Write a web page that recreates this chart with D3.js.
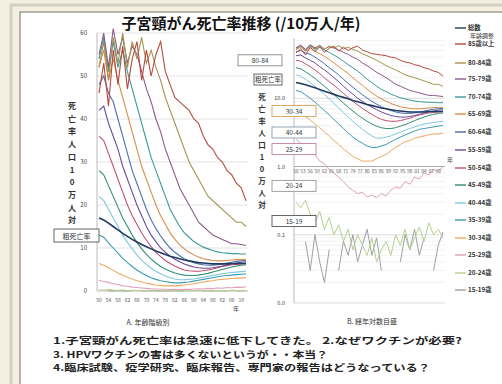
<!DOCTYPE html>
<html>
<head>
<meta charset="utf-8">
<script src="https://cdn.jsdelivr.net/npm/d3@7"></script>
<style>
  body { margin: 0; background: #f4efe3; }
  svg { display: block; font-family: "Noto Sans CJK JP", "Noto Sans", sans-serif; }
</style>
</head>
<body>
<svg id="chart" width="502" height="384"></svg>
<script>
// years (every 2 years)
const years = [1950,1952,1954,1956,1958,1960,1962,1964,1966,1968,1970,1972,1974,1976,1978,1980,
  1982,1984,1986,1988,1990,1992,1994,1996,1998,2000,2002,2004,2006,2008,2010,2012];

// death rate per 100k, by age group
const rateTotal = [17,16.5,15.8,15,14.2,13.4,12.7,12,11.4,10.8,10.3,9.8,9.3,8.9,8.5,8.1,7.8,7.5,7.2,7,6.8,6.6,6.5,6.4,6.3,6.3,6.3,6.3,6.4,6.4,6.4,6.4];
const rate85 = [46,53,43,56,48,57,47,54,58,49,56,50,55,58,51,48,45,44,43,42,40,39,36,34,33,31,30,28,27,25,24,21];
const rate80 = [52,58,49,59,53,60,52,58,54,59,53,56,52,49,45,42,39,36,33,30,28,26,24,22,21,20,19,18,17,16,16,15];
const rate75 = [55,60,52,61,55,59,53,57,55,51,47,44,40,37,33,30,27,24,22,20,18,16,15,14,13,12.5,12,11.5,11,11,10.8,10.6];
const rate70 = [54,59,51,58,52,56,51,47,43,39,35,31,28,25,22,19,17,15,13.5,12.5,11.5,10.8,10.2,9.8,9.4,9.1,8.9,8.8,8.7,8.7,8.6,8.6];
const rate65 = [52,56,49,54,49,45,41,37,33,29,26,23,20,17.5,15.5,13.5,12,10.8,9.8,9,8.4,7.9,7.5,7.3,7.1,7,7,7.1,7.2,7.3,7.3,7.4];
const rate60 = [48,50,46,44,40,36,32,28,25,22,19,16.5,14.5,12.8,11.3,10,9,8.2,7.5,7,6.6,6.3,6.1,6,6,6.1,6.3,6.5,6.7,6.9,7,7.1];
const rate55 = [42,43,39,36,33,29,26,23,20,17.5,15,13,11.5,10,9,8.1,7.4,6.8,6.3,5.9,5.6,5.4,5.3,5.3,5.4,5.6,5.8,6.1,6.3,6.5,6.7,6.8];
const rate50 = [36,35,32,29,26,23,20,17.5,15.5,13.5,11.8,10.3,9,8,7.1,6.4,5.8,5.3,4.9,4.7,4.6,4.6,4.7,4.9,5.1,5.4,5.7,5.9,6.1,6.2,6.3,6.4];
const rate45 = [28,27,24.5,22,19.5,17,15,13,11.3,9.8,8.5,7.4,6.5,5.7,5.1,4.6,4.2,3.9,3.7,3.6,3.6,3.7,3.9,4.1,4.4,4.7,5,5.3,5.6,5.8,6,6.1];
const rate40 = [22,21,19,17,15,13,11.3,9.8,8.4,7.2,6.2,5.3,4.6,4,3.5,3.1,2.8,2.6,2.6,2.7,2.8,3,3.2,3.4,3.6,3.8,4,4.2,4.3,4.4,4.5,4.6];
const rate35 = [13,12.5,11.2,10,8.8,7.6,6.6,5.7,4.9,4.2,3.6,3.1,2.7,2.4,2.2,2,1.9,1.9,2,2.1,2.3,2.5,2.7,2.9,3.1,3.3,3.5,3.6,3.7,3.8,3.9,4];
const rate30 = [6.4,6,5.4,4.8,4.2,3.7,3.2,2.8,2.4,2.1,1.8,1.6,1.4,1.3,1.2,1.2,1.2,1.3,1.4,1.5,1.7,1.9,2.1,2.3,2.4,2.6,2.7,2.8,2.9,3,3,3.1];
const rate25 = [2.5,2.2,2,1.7,1.5,1.2,1.1,0.9,0.8,0.7,0.6,0.5,0.45,0.4,0.42,0.36,0.38,0.35,0.4,0.37,0.45,0.5,0.48,0.6,0.55,0.7,0.65,0.8,0.75,0.9,0.85,1];
const rate20 = [0.3,0.25,0.32,0.2,0.15,0.22,0.12,0.18,0.1,0.14,0.08,0.12,0.06,0.1,0.07,0.05,0.09,0.04,0.06,0.08,0.05,0.1,0.07,0.12,0.06,0.09,0.13,0.08,0.15,0.1,0.12,0.09];
const rate15 = [0.05,null,0.08,0.03,0.1,0.04,0.02,0.06,null,0.03,0.08,0.05,0.1,0.04,0.07,0.12,0.05,0.09,0.03,null,0.02,null,0.04,0.1,0.06,0.12,0.05,0.09,null,0.03,0.07,0.11];

const groupNames = ["総数","85歳以上","80-84歳","75-79歳","70-74歳","65-69歳","60-64歳","55-59歳",
  "50-54歳","45-49歳","40-44歳","35-39歳","30-34歳","25-29歳","20-24歳","15-19歳"];
const groupColors = ["#1f3a5f","#b84a3a","#a39350","#8a5a8a","#3a9a9a","#d98c4a","#4a6fb0","#6a4a9a",
  "#c05070","#2f8f6f","#7fc8e0","#3a9ab0","#f0a860","#e0a0c0","#b8d090","#a0a0a0"];
const groupRates = [rateTotal,rate85,rate80,rate75,rate70,rate65,rate60,rate55,
  rate50,rate45,rate40,rate35,rate30,rate25,rate20,rate15];

// tick labels
const leftXTicks = [1950,1954,1958,1962,1966,1970,1974,1978,1982,1986,1990,1994,1998,2002,2006,2010];
const rightXTicks = [1950,1953,1956,1959,1962,1965,1968,1971,1974,1977,1980,1983,1986,1989,1992,1995,1998,2001,2004,2007,2010];
const leftYTicks = [0,10,20,30,40,50,60];
const rightYTicks = [0.01,0.1,1,10];

// label boxes on the log chart (text, rate at 1950, border colour)
const rightBoxes = [["80-84",36,"#888"],["粗死亡率",18.8,"#555"],["30-34",6.5,"#d9a060"],
  ["40-44",3.15,"#8899aa"],["25-29",1.8,"#c080a0"],["20-24",0.52,"#999"],["15-19",0.159,"#555"]];

const svg = d3.select('#chart');

// slide frame
svg.append('rect').attr('x', 11).attr('y', 5).attr('width', 495).attr('height', 384)
  .attr('fill', 'none').attr('stroke', '#d6cfbf').attr('stroke-width', 3);
svg.append('rect').attr('x', 20).attr('y', 12).attr('width', 490).attr('height', 380)
  .attr('fill', '#fff').attr('stroke', '#8d877b').attr('stroke-width', 1.2);

svg.append('text').attr('x', 241).attr('y', 29).attr('text-anchor', 'middle')
  .attr('font-size', 15).attr('font-weight', 700).attr('fill', '#111')
  .text('子宮頸がん死亡率推移 (/10万人/年)');

const series = groupNames.map((name, i) => ({
  name: name,
  color: groupColors[i],
  values: years.map((yr, j) => ({ year: yr, v: groupRates[i][j] }))
}));
const drawOrder = series.slice().reverse();

// ---------- A: linear chart ----------
const xL = d3.scaleLinear().domain([1950, 2012]).range([99, 246]);
const yL = d3.scaleLinear().domain([0, 60]).range([291, 33]);

const gA = svg.append('g');
gA.selectAll('line.grid').data(leftYTicks.slice(1)).enter().append('line')
  .attr('x1', 97).attr('x2', 248)
  .attr('y1', d => yL(d)).attr('y2', d => yL(d))
  .attr('stroke', '#dcdcdc').attr('stroke-width', 0.8);
gA.append('line').attr('x1', 97).attr('x2', 97).attr('y1', yL(60)).attr('y2', yL(0))
  .attr('stroke', '#bbb');
gA.append('line').attr('x1', 97).attr('x2', 248).attr('y1', yL(0)).attr('y2', yL(0))
  .attr('stroke', '#bbb');
gA.selectAll('text.yt').data(leftYTicks).enter().append('text')
  .attr('x', 87).attr('y', d => yL(d) + 2).attr('text-anchor', 'end')
  .attr('font-size', 6).attr('fill', '#444').text(d => d);
gA.selectAll('text.xt').data(leftXTicks).enter().append('text')
  .attr('x', d => xL(d)).attr('y', 302).attr('text-anchor', 'middle')
  .attr('font-size', 5).attr('fill', '#555').text(d => String(d).slice(2));
gA.append('text').attr('x', 236).attr('y', 311).attr('text-anchor', 'middle')
  .attr('font-size', 6).attr('fill', '#444').text('年');

const lineL = d3.line().defined(d => d.v != null)
  .x(d => xL(d.year)).y(d => yL(d.v));
gA.selectAll('path.s').data(drawOrder).enter().append('path')
  .attr('fill', 'none').attr('stroke', d => d.color)
  .attr('stroke-width', d => d.name === '総数' ? 1.6 : 1.1)
  .attr('d', d => lineL(d.values));

// vertical axis title
const yTitleChars = ['死','亡','率','人','口','1','0','万','人','対'];
gA.selectAll('text.yl').data(yTitleChars).enter().append('text')
  .attr('x', 72).attr('y', (d, i) => 109 + i * 12.7).attr('text-anchor', 'middle')
  .attr('font-size', 8).attr('font-weight', 700).attr('fill', '#333').text(d => d);

gA.append('rect').attr('x', 54).attr('y', 229).attr('width', 45).attr('height', 13)
  .attr('fill', '#fff').attr('stroke', '#555').attr('stroke-width', 0.9);
gA.append('text').attr('x', 76.5).attr('y', 238.5).attr('text-anchor', 'middle')
  .attr('font-size', 7).attr('fill', '#333').text('粗死亡率');

svg.append('text').attr('x', 148).attr('y', 325).attr('text-anchor', 'middle')
  .attr('font-size', 7).attr('fill', '#333').text('A. 年齢階級別');

// ---------- B: log chart ----------
const xR = d3.scaleLinear().domain([1950, 2012]).range([296, 443]);
const yR = d3.scaleLog().domain([0.01, 100]).range([303, 30]);
const yTop = 38;

const gB = svg.append('g');
const minor = [];
[0.01, 0.1, 1, 10].forEach(dec => {
  for (let k = 2; k <= 9; k++) { if (yR(dec * k) >= yTop) minor.push(dec * k); }
});
gB.selectAll('line.mg').data(minor).enter().append('line')
  .attr('x1', 294).attr('x2', 445).attr('y1', d => yR(d)).attr('y2', d => yR(d))
  .attr('stroke', '#ececec').attr('stroke-width', 0.7);
gB.selectAll('line.gd').data(rightYTicks).enter().append('line')
  .attr('x1', 294).attr('x2', 445).attr('y1', d => yR(d)).attr('y2', d => yR(d))
  .attr('stroke', '#d4d4d4').attr('stroke-width', 0.8);
gB.append('line').attr('x1', 294).attr('x2', 294).attr('y1', yTop).attr('y2', yR(0.01))
  .attr('stroke', '#bbb');
gB.append('line').attr('x1', 294).attr('x2', 445).attr('y1', yR(1)).attr('y2', yR(1))
  .attr('stroke', '#aaa');

const lineR = d3.line().defined(d => d.v != null)
  .x(d => xR(d.year)).y(d => yR(d.v));
gB.selectAll('path.s').data(drawOrder).enter().append('path')
  .attr('fill', 'none').attr('stroke', d => d.color)
  .attr('stroke-width', d => d.name === '総数' ? 1.6 : 1)
  .attr('d', d => lineR(d.values));

gB.selectAll('text.xt').data(rightXTicks).enter().append('text')
  .attr('x', d => xR(d)).attr('y', yR(1) + 6).attr('text-anchor', 'middle')
  .attr('font-size', 4.5).attr('fill', '#555').text(d => String(d).slice(2));
gB.append('text').attr('x', 450).attr('y', yR(1) - 5).attr('text-anchor', 'middle')
  .attr('font-size', 6).attr('fill', '#444').text('年');

const fmt = d3.format('.1f');
gB.selectAll('text.yt').data(rightYTicks).enter().append('text')
  .attr('x', 285).attr('y', d => yR(d) + 2).attr('text-anchor', 'end')
  .attr('font-size', 5.5).attr('fill', '#444').text(d => fmt(d));

gB.selectAll('text.yl').data(yTitleChars).enter().append('text')
  .attr('x', 262).attr('y', (d, i) => 100 + i * 12).attr('text-anchor', 'middle')
  .attr('font-size', 7.5).attr('font-weight', 700).attr('fill', '#333').text(d => d);

const boxW = d => d[0].length > 4 ? 44 : 28;
const boxX = (d, i) => i < 2 ? 282 - boxW(d) : 272;
const box = gB.selectAll('g.box').data(rightBoxes).enter().append('g')
  .attr('transform', (d, i) => 'translate(' + boxX(d, i) + ',' + (yR(d[1]) - 5.5) + ')');
box.append('rect').attr('width', boxW).attr('height', 11)
  .attr('fill', '#fff').attr('stroke', d => d[2]).attr('stroke-width', 0.9);
box.append('text').attr('x', d => boxW(d) / 2).attr('y', 8).attr('text-anchor', 'middle')
  .attr('font-size', 6.5).attr('fill', '#333').text(d => d[0]);

svg.append('text').attr('x', 372).attr('y', 324).attr('text-anchor', 'middle')
  .attr('font-size', 7).attr('fill', '#333').text('B. 経年対数目盛');

// ---------- legend ----------
const legY = [28,44,63,79,97,114,132,150,168,185,203,220,238,255,273,290];
const leg = svg.append('g');
const item = leg.selectAll('g').data(series).enter().append('g')
  .attr('transform', (d, i) => 'translate(455,' + legY[i] + ')');
item.append('line').attr('x1', 0).attr('x2', 11).attr('stroke', d => d.color)
  .attr('stroke-width', 1.4);
item.append('text').attr('x', 13).attr('y', 2.3).attr('font-size', 6.3)
  .attr('font-weight', 700).attr('fill', '#333').text(d => d.name);
leg.append('text').attr('x', 470).attr('y', 38).attr('font-size', 6)
  .attr('fill', '#333').text('年齢調整');

// ---------- notes ----------
const notes = ['1.子宮頸がん死亡率は急速に低下してきた。 2.なぜワクチンが必要?',
  '3. HPVワクチンの害は多くないというが・・本当？',
  '4.臨床試験、疫学研究、臨床報告、専門家の報告はどうなっている？'];
const noteWidths = [409, 275, 377];
svg.selectAll('text.note').data(notes).enter().append('text')
  .attr('x', 53).attr('y', (d, i) => 344 + i * 13.6)
  .attr('font-size', 9.4).attr('font-weight', 700).attr('fill', '#222')
  .attr('textLength', (d, i) => noteWidths[i]).attr('lengthAdjust', 'spacingAndGlyphs')
  .text(d => d);
</script>
</body>
</html>
